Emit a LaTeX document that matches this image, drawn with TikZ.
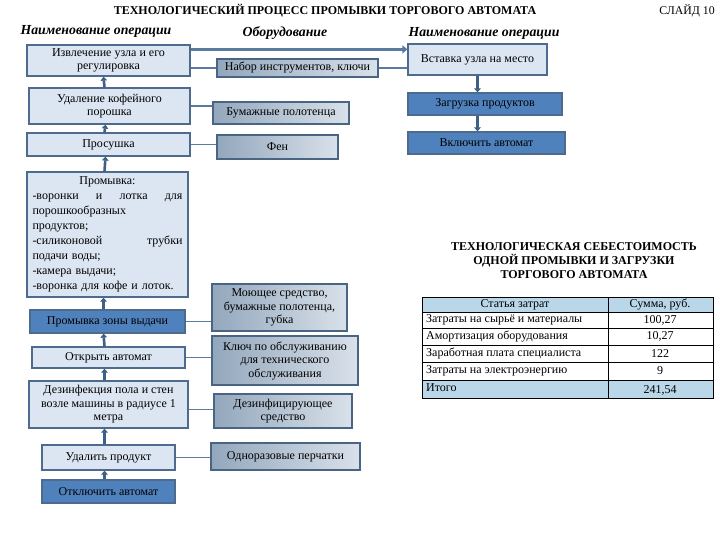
\documentclass[tikz,border=0pt]{standalone}
\usepackage{fontspec}
\setmainfont{Liberation Serif}
\usetikzlibrary{arrows.meta}
\definecolor{opfill}{HTML}{DCE6F2}
\definecolor{opline}{HTML}{4E6B8E}
\definecolor{opdark}{HTML}{4F81BD}
\definecolor{eqleft}{HTML}{93A7BC}
\definecolor{eqright}{HTML}{D9E1EA}
\definecolor{eqline}{HTML}{4A6483}
\definecolor{linkc}{HTML}{5A7BA0}
\definecolor{arrc}{HTML}{3E5F86}
\definecolor{tabfill}{HTML}{B9D7E8}
\newcommand\boxfont{\fontsize{12}{13.5}\selectfont}
\begin{document}
\begin{tikzpicture}[x=1pt, y=-1pt,
  op/.style={draw=opline, fill=opfill, line width=1.2pt, align=center, font=\boxfont, inner sep=1pt},
  opdk/.style={op, fill=opdark},
  eq/.style={draw=eqline, line width=1.2pt, left color=eqleft, right color=eqright, align=center, font=\boxfont, inner sep=1pt},
  link/.style={draw=linkc, line width=1.3pt},
  up/.style={draw=arrc, line width=2.6pt, -{Triangle[length=4pt,width=6.5pt]}},
  head/.style={font=\fontsize{13.8}{16}\selectfont\bfseries\itshape},
  cell/.style={font=\boxfont, inner sep=0pt}
]
\useasboundingbox (0,0) rectangle (720,540);

\node[font=\fontsize{12}{14}\selectfont\bfseries] (title) at (325,11) {ТЕХНОЛОГИЧЕСКИЙ ПРОЦЕСС ПРОМЫВКИ ТОРГОВОГО АВТОМАТА};
\node[font=\fontsize{11.8}{14}\selectfont] (slide) at (687,11) {СЛАЙД 10};
\node[head] (h1) at (96,31) {Наименование операции};
\node[head] (h2) at (285,33) {Оборудование};
\node[head] (h3) at (484,33) {Наименование операции};

\node[op, minimum width=163pt, minimum height=31pt] (ext) at (108.5,60.5) {Извлечение узла и его\\регулировка};
\node[op, minimum width=161pt, minimum height=36pt] (pow) at (109.5,106) {Удаление кофейного\\порошка};
\node[op, minimum width=163pt, minimum height=23pt] (dry) at (108.5,144.5) {Просушка};
\node[op, minimum width=161pt, minimum height=125pt, text width=150pt, align=left,
  font=\fontsize{12}{15}\selectfont] (wash) at (107.5,234.5)
  {\makebox[150pt][c]{Промывка:}\\
   \makebox[150pt][s]{-воронки\hfill и\hfill лотка\hfill для}\\
   порошкообразных\\
   продуктов;\\
   \makebox[150pt][s]{-силиконовой\hfill трубки}\\
   подачи воды;\\
   -камера выдачи;\\
   -воронка для кофе и лоток.};
\node[opdk, minimum width=155pt, minimum height=23pt] (zone) at (107.5,321.5) {Промывка зоны выдачи};
\node[op, minimum width=153pt, minimum height=21pt] (open) at (108.5,357.5) {Открыть автомат};
\node[op, minimum width=159pt, minimum height=47pt] (dis) at (108.5,404.5) {Дезинфекция пола и стен\\возле машины в радиусе 1\\метра};
\node[op, minimum width=133pt, minimum height=25pt] (rem) at (108.5,457.5) {Удалить продукт};
\node[opdk, minimum width=133pt, minimum height=23pt] (off) at (108.5,491.5) {Отключить автомат};

\node[eq, minimum width=161pt, minimum height=18pt] (tools) at (297.5,68) {Набор инструментов, ключи};
\node[eq, minimum width=136pt, minimum height=22pt] (towel) at (281,113) {Бумажные полотенца};
\node[eq, minimum width=121pt, minimum height=24pt] (fen) at (277.5,147) {Фен};
\node[eq, minimum width=135pt, minimum height=47pt] (soap) at (279.5,307.5) {Моющее средство,\\бумажные полотенца,\\губка};
\node[eq, minimum width=146pt, minimum height=49pt] (key) at (285,360.5) {Ключ по обслуживанию\\для технического\\обслуживания};
\node[eq, minimum width=138pt, minimum height=34pt] (disinf) at (283,411) {Дезинфицирующее\\средство};
\node[eq, minimum width=149pt, minimum height=27pt] (glove) at (285.5,456.5) {Одноразовые перчатки};

\node[op, minimum width=139pt, minimum height=31pt] (ins) at (477.5,59.5) {Вставка узла на место};
\node[opdk, minimum width=154pt, minimum height=22pt] (load) at (485,104) {Загрузка продуктов};
\node[opdk, minimum width=157pt, minimum height=22pt] (on) at (486.5,143) {Включить автомат};

\draw[up] ([xshift=-4pt]off.north) -- ([xshift=-4pt]rem.south);
\draw[up] ([xshift=-4pt]rem.north) -- ([xshift=-4pt]dis.south);
\draw[up] ([xshift=-4pt]dis.north) -- ([xshift=-4pt]open.south);
\draw[up] ([xshift=-4pt]open.north) -- ([xshift=-4pt]zone.south);
\draw[up] ([xshift=-4pt]zone.north) -- ([xshift=-4pt]wash.south);
\draw[up] ([xshift=-3pt]wash.north) -- ([xshift=-3pt]dry.south);
\draw[up] ([xshift=-4pt]dry.north) -- ([xshift=-4pt]pow.south);
\draw[up] ([xshift=-5pt]pow.north) -- ([xshift=-5pt]ext.south);
\draw[draw=linkc, line width=3.5pt, -{Triangle[length=5pt,width=8pt]}]
  ([yshift=-5pt]ext.north east) -- ([yshift=-5pt]ext.north east -| ins.west);
\draw[up] (ins.south) -- (ins.south |- load.north);
\draw[up] (ins.south |- load.south) -- (ins.south |- on.north);

\draw[link] (tools.west -| ext.east) -- (tools.west);
\draw[link] (tools.east) -- (tools.east -| ins.west);
\draw[link] (pow.east) -- (pow.east -| towel.west);
\draw[link] (dry.east) -- (dry.east -| fen.west);
\draw[link] (zone.east) -- (zone.east -| soap.west);
\draw[link] (open.east) -- (open.east -| key.west);
\draw[link] ([yshift=-5pt]dis.east) -- ([yshift=-5pt]dis.east -| disinf.west);
\draw[link] (rem.east) -- (rem.east -| glove.west);

\node[font=\fontsize{12}{14}\selectfont\bfseries, align=center] (cost) at (574,261)
  {ТЕХНОЛОГИЧЕСКАЯ СЕБЕСТОИМОСТЬ\\ОДНОЙ ПРОМЫВКИ И ЗАГРУЗКИ\\ТОРГОВОГО АВТОМАТА};

\fill[tabfill] (422,297) rectangle (713,312);
\fill[tabfill] (422,380) rectangle (713,398);
\draw[line width=0.9pt] (422,297) rectangle (713,398);
\foreach \y in {312,328,345,362,380} \draw[line width=0.6pt] (422,\y) -- (713,\y);
\draw[line width=0.6pt] (608,297) -- (608,398);

\node[cell] (c0) at (515,304.5) {Статья затрат};
\node[cell] (v0) at (660,304.5) {Сумма, руб.};
\node[cell, anchor=west] (c1) at (426,320) {Затраты на сырьё и материалы};
\node[cell] (v1) at (660,320) {100,27};
\node[cell, anchor=west] (c2) at (426,336.5) {Амортизация оборудования};
\node[cell] (v2) at (660,336.5) {10,27};
\node[cell, anchor=west] (c3) at (426,353.5) {Заработная плата специалиста};
\node[cell] (v3) at (660,353.5) {122};
\node[cell, anchor=west] (c4) at (426,371) {Затраты на электроэнергию};
\node[cell] (v4) at (660,371) {9};
\node[cell, anchor=west] (c5) at (426,388) {Итого};
\node[cell] (v5) at (660,390) {241,54};
\end{tikzpicture}
\end{document}
